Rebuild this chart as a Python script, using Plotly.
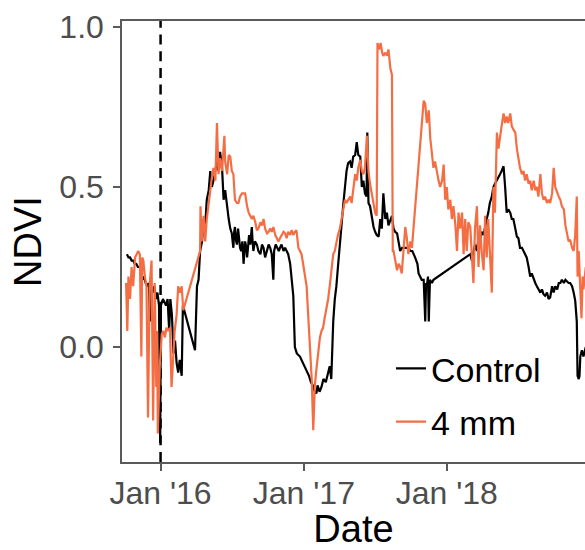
import plotly.graph_objects as go

# NDVI time series, Control vs 4 mm treatment
control_dates = [
    "2015-10-07", "2015-10-11", "2015-10-15", "2015-10-19", "2015-10-23", "2015-10-27", "2015-10-31",
    "2015-11-04", "2015-11-08", "2015-11-12", "2015-11-16", "2015-11-20", "2015-11-24", "2015-11-28",
    "2015-12-02", "2015-12-05", "2015-12-08", "2015-12-12", "2015-12-16", "2015-12-20", "2015-12-24", "2015-12-28", "2015-12-31",
    "2016-01-02", "2016-01-07", "2016-01-11", "2016-01-15", "2016-01-19", "2016-01-23", "2016-01-26", "2016-01-30",
    "2016-02-03", "2016-02-07", "2016-02-11", "2016-02-15", "2016-02-19", "2016-02-24", "2016-02-27",
    "2016-03-29",
    "2016-04-03", "2016-04-07", "2016-04-11", "2016-04-16", "2016-04-20", "2016-04-24", "2016-04-28",
    "2016-05-03", "2016-05-07", "2016-05-11", "2016-05-15", "2016-05-20", "2016-05-24", "2016-05-28",
    "2016-06-01", "2016-06-06", "2016-06-10", "2016-06-14", "2016-06-19", "2016-06-23", "2016-06-27",
    "2016-07-01", "2016-07-03", "2016-07-05", "2016-07-07", "2016-07-09", "2016-07-12", "2016-07-14", "2016-07-17",
    "2016-07-19", "2016-07-22", "2016-07-25", "2016-07-28", "2016-07-31",
    "2016-08-02", "2016-08-04", "2016-08-07", "2016-08-09", "2016-08-12", "2016-08-14", "2016-08-17",
    "2016-08-21", "2016-08-23", "2016-08-25", "2016-08-29",
    "2016-09-03", "2016-09-07", "2016-09-12", "2016-09-16", "2016-09-20", "2016-09-24", "2016-09-29",
    "2016-10-03", "2016-10-07", "2016-10-11", "2016-10-15", "2016-10-17", "2016-10-21", "2016-10-25", "2016-10-29",
    "2016-11-01", "2016-11-05", "2016-11-10", "2016-11-14", "2016-11-18", "2016-11-22", "2016-11-27",
    "2016-12-02", "2016-12-05", "2016-12-09", "2016-12-14", "2016-12-22", "2016-12-30",
    "2017-01-08", "2017-01-14", "2017-01-19", "2017-01-24", "2017-01-29",
    "2017-02-02", "2017-02-05", "2017-02-10", "2017-02-15", "2017-02-20", "2017-02-26",
    "2017-03-03", "2017-03-08", "2017-03-12", "2017-03-17", "2017-03-21", "2017-03-25", "2017-03-29",
    "2017-04-03", "2017-04-07", "2017-04-12", "2017-04-16", "2017-04-20", "2017-04-24", "2017-04-29",
    "2017-05-03", "2017-05-07", "2017-05-12", "2017-05-16", "2017-05-20", "2017-05-25", "2017-05-29",
    "2017-06-02", "2017-06-06", "2017-06-10", "2017-06-12", "2017-06-15", "2017-06-19", "2017-06-24", "2017-06-28",
    "2017-07-02", "2017-07-06", "2017-07-11", "2017-07-15", "2017-07-19", "2017-07-23", "2017-07-28",
    "2017-08-01", "2017-08-05", "2017-08-10", "2017-08-14", "2017-08-18", "2017-08-22", "2017-08-27", "2017-08-31",
    "2017-09-04", "2017-09-09", "2017-09-17", "2017-09-25", "2017-09-30",
    "2017-10-05", "2017-10-12", "2017-10-18", "2017-10-21", "2017-10-25", "2017-10-29",
    "2017-11-03", "2017-11-07", "2017-11-09", "2017-11-11", "2017-11-14", "2017-11-16", "2017-11-19", "2017-11-24", "2017-11-28",
    "2018-03-02", "2018-03-06", "2018-03-10", "2018-03-14", "2018-03-19", "2018-03-23", "2018-03-27", "2018-03-31",
    "2018-04-05", "2018-04-09", "2018-04-13", "2018-04-17", "2018-04-21", "2018-04-26", "2018-04-30",
    "2018-05-04", "2018-05-09", "2018-05-13", "2018-05-17", "2018-05-21", "2018-05-26", "2018-05-30",
    "2018-06-03", "2018-06-07", "2018-06-12", "2018-06-16", "2018-06-20", "2018-06-25", "2018-06-29",
    "2018-07-03", "2018-07-07", "2018-07-12", "2018-07-16", "2018-07-20", "2018-07-24", "2018-07-29",
    "2018-08-02", "2018-08-06", "2018-08-11", "2018-08-15", "2018-08-19", "2018-08-23", "2018-08-28",
    "2018-09-01", "2018-09-05", "2018-09-09", "2018-09-14", "2018-09-18", "2018-09-22", "2018-09-27",
    "2018-10-01", "2018-10-05", "2018-10-10", "2018-10-14", "2018-10-18", "2018-10-22", "2018-10-27", "2018-10-31",
    "2018-11-04", "2018-11-08", "2018-11-12", "2018-11-17", "2018-11-21", "2018-11-25", "2018-11-29",
    "2018-12-01", "2018-12-04", "2018-12-06", "2018-12-08", "2018-12-12", "2018-12-16", "2018-12-22",
]
control_ndvi = [
    0.29, 0.28, 0.28, 0.27, 0.27, 0.26, 0.26,
    0.25, 0.25, 0.24, 0.21, 0.22, 0.20, 0.19,
    0.20, 0.08, 0.18, 0.17, 0.19, 0.15, 0.17, 0.13, -0.30,
    0.13, 0.15, 0.14, 0.13, 0.15, 0.05, 0.15, 0.10,
    -0.02, 0.02, -0.05, -0.08, -0.04, -0.09, 0.13,
    -0.01,
    0.19, 0.21, 0.30, 0.33, 0.40, 0.38, 0.46,
    0.49, 0.55, 0.50, 0.52, 0.56, 0.58, 0.55,
    0.61, 0.56, 0.46, 0.49, 0.43, 0.40, 0.37,
    0.355, 0.33, 0.31, 0.36, 0.375, 0.33, 0.32, 0.37,
    0.35, 0.31, 0.30, 0.33, 0.26,
    0.30, 0.33, 0.31, 0.28, 0.32, 0.35, 0.32,
    0.375, 0.33, 0.30, 0.33,
    0.32, 0.30, 0.29, 0.32, 0.31, 0.28, 0.30,
    0.32, 0.31, 0.29, 0.21, 0.30, 0.32, 0.31, 0.30,
    0.31, 0.32, 0.30, 0.31, 0.30, 0.29, 0.26,
    0.20, 0.16, 0.00, -0.02, -0.03, -0.05,
    -0.07, -0.09, -0.11, -0.12, -0.14,
    -0.145, -0.12, -0.14, -0.125, -0.10, -0.11,
    -0.08, -0.06, -0.10, 0.08, 0.15, 0.19, 0.25,
    0.33, 0.38, 0.45, 0.50, 0.55, 0.575, 0.58,
    0.56, 0.595, 0.60, 0.64, 0.60, 0.595, 0.50,
    0.52, 0.48, 0.47, 0.67, 0.45, 0.44, 0.40, 0.375,
    0.36, 0.35, 0.345, 0.40, 0.37, 0.48, 0.40,
    0.42, 0.38, 0.40, 0.41, 0.37, 0.36, 0.355, 0.32,
    0.30, 0.31, 0.31, 0.31, 0.30,
    0.30, 0.28, 0.26, 0.23, 0.22, 0.21,
    0.21, 0.08, 0.20, 0.19, 0.22, 0.08, 0.21, 0.20, 0.21,
    0.29, 0.27, 0.30, 0.32, 0.30, 0.34, 0.33, 0.36,
    0.35, 0.38, 0.40, 0.42, 0.45, 0.47, 0.50,
    0.51, 0.52, 0.53, 0.54, 0.55, 0.565, 0.50,
    0.42, 0.43, 0.42, 0.40, 0.40, 0.37, 0.345,
    0.34, 0.31, 0.31, 0.30, 0.29, 0.28, 0.25,
    0.22, 0.23, 0.21, 0.20, 0.19, 0.18, 0.17,
    0.18, 0.165, 0.16, 0.17, 0.15, 0.155, 0.19,
    0.17, 0.19, 0.18, 0.20, 0.20, 0.21, 0.20, 0.21,
    0.205, 0.20, 0.20, 0.19, 0.17, 0.145, 0.08,
    -0.09, -0.10, -0.09, -0.03, -0.01, -0.03, 0.00,
]

mm4_dates = [
    "2015-10-05", "2015-10-08", "2015-10-11", "2015-10-15", "2015-10-19", "2015-10-23", "2015-10-28",
    "2015-11-01", "2015-11-05", "2015-11-09", "2015-11-13", "2015-11-15", "2015-11-18", "2015-11-22", "2015-11-26", "2015-11-30",
    "2015-12-04", "2015-12-09", "2015-12-13", "2015-12-17", "2015-12-21", "2015-12-23", "2015-12-25", "2015-12-30",
    "2016-01-04", "2016-01-08", "2016-01-12", "2016-01-16", "2016-01-20", "2016-01-25", "2016-01-29",
    "2016-02-02", "2016-02-06", "2016-02-11", "2016-02-15", "2016-02-19", "2016-02-24", "2016-02-28",
    "2016-04-11", "2016-04-12", "2016-04-15", "2016-04-20", "2016-04-24", "2016-04-28",
    "2016-05-03", "2016-05-07", "2016-05-11", "2016-05-15", "2016-05-20", "2016-05-24", "2016-05-28",
    "2016-06-01", "2016-06-06", "2016-06-12", "2016-06-14", "2016-06-19", "2016-06-23", "2016-06-27",
    "2016-07-01", "2016-07-05", "2016-07-09", "2016-07-14", "2016-07-18", "2016-07-22", "2016-07-27", "2016-07-31",
    "2016-08-04", "2016-08-09", "2016-08-13", "2016-08-17", "2016-08-21", "2016-08-25", "2016-08-30",
    "2016-09-03", "2016-09-07", "2016-09-12", "2016-09-16", "2016-09-20", "2016-09-24", "2016-09-29",
    "2016-10-03", "2016-10-07", "2016-10-11", "2016-10-15", "2016-10-20", "2016-10-24", "2016-10-28",
    "2016-11-01", "2016-11-05", "2016-11-10", "2016-11-14", "2016-11-18", "2016-11-22", "2016-11-27",
    "2016-12-01", "2016-12-05", "2016-12-09", "2016-12-13", "2016-12-18", "2016-12-22", "2016-12-26", "2016-12-30",
    "2017-01-04", "2017-01-08", "2017-01-12", "2017-01-17", "2017-01-21", "2017-01-25", "2017-01-29",
    "2017-02-02", "2017-02-06", "2017-02-11", "2017-02-15", "2017-02-19", "2017-02-23", "2017-02-28",
    "2017-03-04", "2017-03-08", "2017-03-12", "2017-03-17", "2017-03-21", "2017-03-25", "2017-03-29",
    "2017-04-03", "2017-04-07", "2017-04-12", "2017-04-16", "2017-04-20", "2017-04-24", "2017-04-29",
    "2017-05-03", "2017-05-07", "2017-05-12", "2017-05-16", "2017-05-20", "2017-05-25", "2017-05-29",
    "2017-06-02", "2017-06-06", "2017-06-11", "2017-06-15", "2017-06-19", "2017-06-24", "2017-06-28",
    "2017-07-02", "2017-07-06", "2017-07-08", "2017-07-12", "2017-07-16", "2017-07-20", "2017-07-23", "2017-07-28",
    "2017-08-01", "2017-08-05", "2017-08-10", "2017-08-14", "2017-08-16", "2017-08-18", "2017-08-22", "2017-08-27", "2017-08-31",
    "2017-09-04", "2017-09-08", "2017-09-13", "2017-09-17", "2017-09-21", "2017-09-25", "2017-09-30",
    "2017-10-04",
    "2017-11-03", "2017-11-07", "2017-11-11", "2017-11-16", "2017-11-20", "2017-11-24", "2017-11-28",
    "2017-12-02", "2017-12-07", "2017-12-11", "2017-12-15", "2017-12-20", "2017-12-24", "2017-12-28",
    "2018-01-01", "2018-01-05", "2018-01-10", "2018-01-14", "2018-01-18", "2018-01-23", "2018-01-27", "2018-01-31",
    "2018-02-04", "2018-02-09", "2018-02-13", "2018-02-17", "2018-02-21", "2018-02-25",
    "2018-03-02", "2018-03-06", "2018-03-10", "2018-03-14", "2018-03-19", "2018-03-23", "2018-03-27", "2018-03-31",
    "2018-04-05", "2018-04-09", "2018-04-13", "2018-04-17", "2018-04-21", "2018-04-26", "2018-04-28", "2018-04-30",
    "2018-05-04", "2018-05-09", "2018-05-13", "2018-05-17", "2018-05-21", "2018-05-26", "2018-05-30",
    "2018-06-03", "2018-06-07", "2018-06-12", "2018-06-16", "2018-06-20", "2018-06-25", "2018-06-29",
    "2018-07-03", "2018-07-07", "2018-07-12", "2018-07-16", "2018-07-20", "2018-07-24", "2018-07-29",
    "2018-08-02", "2018-08-06", "2018-08-11", "2018-08-15", "2018-08-19", "2018-08-23", "2018-08-28",
    "2018-09-01", "2018-09-05", "2018-09-09", "2018-09-14", "2018-09-18", "2018-09-22", "2018-09-27",
    "2018-10-01", "2018-10-05", "2018-10-10", "2018-10-14", "2018-10-18", "2018-10-22", "2018-10-27", "2018-10-31",
    "2018-11-04", "2018-11-08", "2018-11-12", "2018-11-17", "2018-11-21", "2018-11-25", "2018-11-29",
    "2018-12-01", "2018-12-04", "2018-12-08", "2018-12-11", "2018-12-14", "2018-12-16", "2018-12-22",
]
mm4_ndvi = [
    0.20, 0.05, 0.22, 0.15, 0.25, 0.19, 0.28,
    0.29, 0.30, 0.29, -0.03, 0.28, 0.27, 0.22, 0.19, -0.22,
    0.19, 0.27, -0.23, 0.20, -0.125, 0.05, -0.27, -0.06,
    0.04, 0.05, 0.03, 0.06, 0.05, 0.06, -0.125,
    -0.04, 0.05, 0.10, 0.19, 0.17, 0.19, 0.115,
    0.30, 0.44, 0.33, 0.41, 0.33, 0.40,
    0.45, 0.50, 0.53, 0.56, 0.52, 0.70, 0.54,
    0.59, 0.55, 0.66, 0.58, 0.54, 0.60, 0.595,
    0.55, 0.54, 0.46, 0.45, 0.45, 0.47, 0.48, 0.48,
    0.48, 0.44, 0.42, 0.41, 0.40, 0.41, 0.39,
    0.365, 0.37, 0.39, 0.38, 0.40, 0.37, 0.355,
    0.36, 0.37, 0.36, 0.375, 0.35, 0.34, 0.33,
    0.34, 0.35, 0.36, 0.355, 0.34, 0.36, 0.35,
    0.365, 0.35, 0.36, 0.365, 0.31, 0.30, 0.29, 0.26,
    0.22, 0.19, 0.10, 0.00, -0.10, -0.26, -0.12,
    -0.07, -0.02, 0.03, 0.05, 0.06, 0.09, 0.12,
    0.15, 0.19, 0.24, 0.29, 0.30, 0.33, 0.35,
    0.37, 0.40, 0.44, 0.46, 0.45, 0.46, 0.47,
    0.45, 0.50, 0.54, 0.52, 0.56, 0.585, 0.55,
    0.54, 0.56, 0.66, 0.55, 0.51, 0.47, 0.44,
    0.42, 0.41, 0.95, 0.93, 0.95, 0.92, 0.91, 0.92,
    0.91, 0.93, 0.87, 0.85, 0.30, 0.30, 0.27, 0.24, 0.26,
    0.25, 0.23, 0.30, 0.375, 0.34, 0.29, 0.33,
    0.31,
    0.77, 0.76, 0.70, 0.74, 0.65, 0.60, 0.56,
    0.58, 0.54, 0.52, 0.50, 0.52, 0.57, 0.46,
    0.50, 0.43, 0.46, 0.40, 0.44, 0.38, 0.30, 0.42,
    0.37, 0.42, 0.29, 0.40, 0.30, 0.39,
    0.375, 0.30, 0.20, 0.37, 0.44, 0.25, 0.38, 0.30,
    0.24, 0.41, 0.28, 0.40, 0.30, 0.17, 0.33, 0.50,
    0.42, 0.67, 0.62, 0.66, 0.69, 0.73, 0.70,
    0.72, 0.70, 0.73, 0.69, 0.68, 0.67, 0.62,
    0.585, 0.56, 0.54, 0.55, 0.52, 0.54, 0.51,
    0.52, 0.49, 0.52, 0.49, 0.50, 0.47, 0.54,
    0.48, 0.46, 0.47, 0.45, 0.46, 0.45, 0.48,
    0.56, 0.50, 0.48, 0.47, 0.46, 0.44, 0.43, 0.38,
    0.355, 0.33, 0.335, 0.31, 0.30, 0.35, 0.47,
    0.22, 0.30, 0.20, 0.09, 0.22, 0.18, 0.25,
]

treatment_date = "2016-01-01"
tick_dates = ["2016-01-01", "2017-01-01", "2018-01-01"]
tick_labels = ["Jan '16", "Jan '17", "Jan '18"]
y_ticks = [0.0, 0.5, 1.0]
y_tick_labels = ["0.0", "0.5", "1.0"]

FONT = "Arial, Liberation Sans, sans-serif"
AXIS_GREY = "#5a5a5a"
TICK_GREY = "#4d4d4d"

fig = go.Figure()
fig.add_trace(go.Scatter(
    x=control_dates, y=control_ndvi, mode="lines", name="Control",
    line=dict(color="#000000", width=2.2), legendgroup="c",
))
fig.add_trace(go.Scatter(
    x=mm4_dates, y=mm4_ndvi, mode="lines", name="4 mm",
    line=dict(color="#f46d43", width=2.2), legendgroup="m",
))

fig.add_vline(x=treatment_date, line=dict(color="#000000", width=2.5, dash="10px,6.7px"), layer="below")

fig.update_layout(
    width=585, height=550,
    margin=dict(l=122, r=0, t=21, b=88),
    paper_bgcolor="white", plot_bgcolor="white",
    font=dict(family=FONT, color="#000000"),
    showlegend=True,
    legend=dict(
        x=0.581, y=0.277, xanchor="left", yanchor="top",
        bgcolor="rgba(0,0,0,0)", font=dict(size=34, color="#000000"),
        tracegroupgap=6, traceorder="grouped",
    ),
)
fig.update_xaxes(
    type="date",
    range=["2015-09-24 12:00", "2018-12-20"],
    tickvals=tick_dates, ticktext=tick_labels,
    tickfont=dict(size=32, color=TICK_GREY, family=FONT),
    ticks="outside", ticklen=7, tickwidth=1.5, tickcolor=AXIS_GREY,
    ticklabelstandoff=-5,
    showline=True, linecolor=AXIS_GREY, linewidth=1.5, mirror=True,
    showgrid=False, zeroline=False,
    title=dict(text="Date", font=dict(size=38, color="#000000", family=FONT), standoff=11),
)
fig.update_yaxes(
    range=[-0.3594, 1.0188],
    tickvals=y_ticks, ticktext=y_tick_labels,
    tickfont=dict(size=32, color=TICK_GREY, family=FONT),
    ticks="outside", ticklen=7, tickwidth=1.5, tickcolor=AXIS_GREY,
    ticklabelstandoff=3,
    showline=True, linecolor=AXIS_GREY, linewidth=1.5, mirror=False,
    showgrid=False, zeroline=False,
    title=dict(text="NDVI", font=dict(size=38, color="#000000", family=FONT), standoff=6),
)

fig.write_html("out.html")
